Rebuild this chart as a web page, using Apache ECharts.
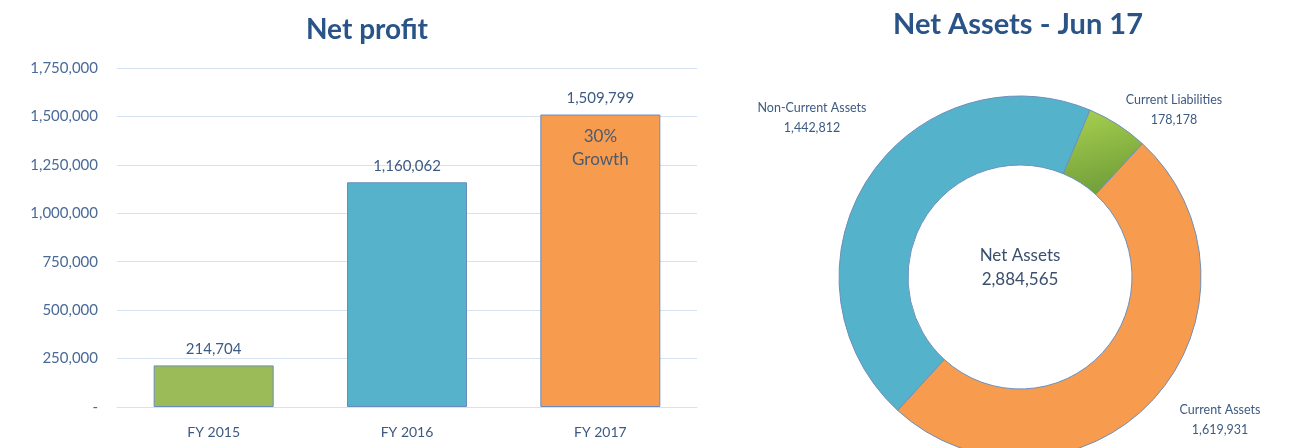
<!DOCTYPE html>
<html><head><meta charset="utf-8">
<script src="https://cdn.jsdelivr.net/npm/echarts@6/dist/echarts.min.js"></script>
<style>html,body{margin:0;padding:0;background:#fff}#c{width:1291px;height:448px}</style>
</head><body><div id="c"></div>
<script>
var barCategories = ['FY 2015', 'FY 2016', 'FY 2017'];
var barValues = [214704, 1160062, 1509799];
var barColors = ['#9bbb59', '#56b2cb', '#f79c4f'];
var growthNote = '30%\nGrowth';
var yTicks = [0, 250000, 500000, 750000, 1000000, 1250000, 1500000, 1750000];

var pieNames = ['Non-Current Assets', 'Current Liabilities', 'Current Assets'];
var pieValues = [1442812, 178178, 1619931];
var centerLabel = 'Net Assets';
var centerValue = 2884565;

function fmt(v) { return v === 0 ? '-' : v.toLocaleString('en-US'); }

var FONT = 'Lato, "Open Sans", sans-serif';
var textCol = '#3d5a82';
var chart = echarts.init(document.getElementById('c'));

var pieColors = [
  '#55b2cb',
  {type: 'linear', x: 0, y: 0, x2: 0.3, y2: 1, colorStops: [{offset: 0, color: '#a9d150'}, {offset: 1, color: '#72a03a'}]},
  '#f79c4f'
];
var labelPos = [[812, 118], [1174, 110], [1220, 420]];

chart.setOption({
  animation: false,
  textStyle: {fontFamily: FONT},
  title: [
    {text: 'Net profit', left: 362, top: 11, textAlign: 'center',
     textStyle: {fontSize: 28, fontWeight: 'bold', color: '#2a5487', fontFamily: FONT}},
    {text: 'Net Assets - Jun 17', left: 1013, top: 5, textAlign: 'center',
     textStyle: {fontSize: 29, fontWeight: 'bold', color: '#2a5487', fontFamily: FONT}}
  ],
  grid: {left: 117, right: 594, top: 68, bottom: 41, containLabel: false},
  xAxis: {
    type: 'category', data: barCategories,
    axisLine: {lineStyle: {color: '#d6e2f1'}},
    axisTick: {show: false},
    axisLabel: {color: textCol, fontSize: 14, margin: 18, fontFamily: FONT}
  },
  yAxis: {
    type: 'value', min: yTicks[0], max: yTicks[yTicks.length - 1], interval: 250000,
    axisLine: {show: false}, axisTick: {show: false},
    splitLine: {lineStyle: {color: '#d6e2f1'}},
    axisLabel: {color: '#4a6a98', fontSize: 15, margin: 19, formatter: fmt, fontFamily: FONT}
  },
  series: [
    {
      type: 'bar', barWidth: 120,
      data: barValues.map(function (v, i) {
        return {value: v, itemStyle: {color: barColors[i], borderColor: '#6a8cbc', borderWidth: 1}};
      }),
      label: {show: true, position: 'top', distance: 9, color: textCol, fontSize: 15, fontFamily: FONT,
              formatter: function (p) { return fmt(p.value); }}
    },
    {
      type: 'bar', barWidth: 120, barGap: '-100%', silent: true,
      data: barValues.map(function (v, i) { return i === barValues.length - 1 ? v : null; }),
      itemStyle: {color: 'transparent'},
      label: {show: true, position: 'insideTop', distance: 10, color: '#4c5a6e', fontSize: 17, lineHeight: 23,
              fontFamily: FONT, formatter: function () { return growthNote; }},
      z: 5
    },
    {
      type: 'pie', center: [1020, 277], radius: [112, 181], startAngle: 227.5, clockwise: true,
      itemStyle: {borderColor: '#6d8fbd', borderWidth: 1},
      data: pieValues.map(function (v, i) { return {name: pieNames[i], value: v, itemStyle: {color: pieColors[i]}}; }),
      label: {show: true, position: 'outside', color: textCol, fontSize: 12.5, lineHeight: 20, align: 'center',
              overflow: 'none', alignTo: 'none', fontFamily: FONT,
              formatter: function (p) { return p.name + '\n' + fmt(p.value); }},
      labelLine: {show: false},
      labelLayout: function (p) {
        var q = labelPos[p.dataIndex];
        return {x: q[0], y: q[1], align: 'center', verticalAlign: 'middle'};
      }
    }
  ],
  graphic: [{
    type: 'text', silent: true, x: 1020, y: 268,
    style: {text: centerLabel + '\n' + fmt(centerValue), fill: '#3a4f6e', fontSize: 17, lineHeight: 24,
            align: 'center', verticalAlign: 'middle', fontFamily: FONT}
  }]
});
</script></body></html>
